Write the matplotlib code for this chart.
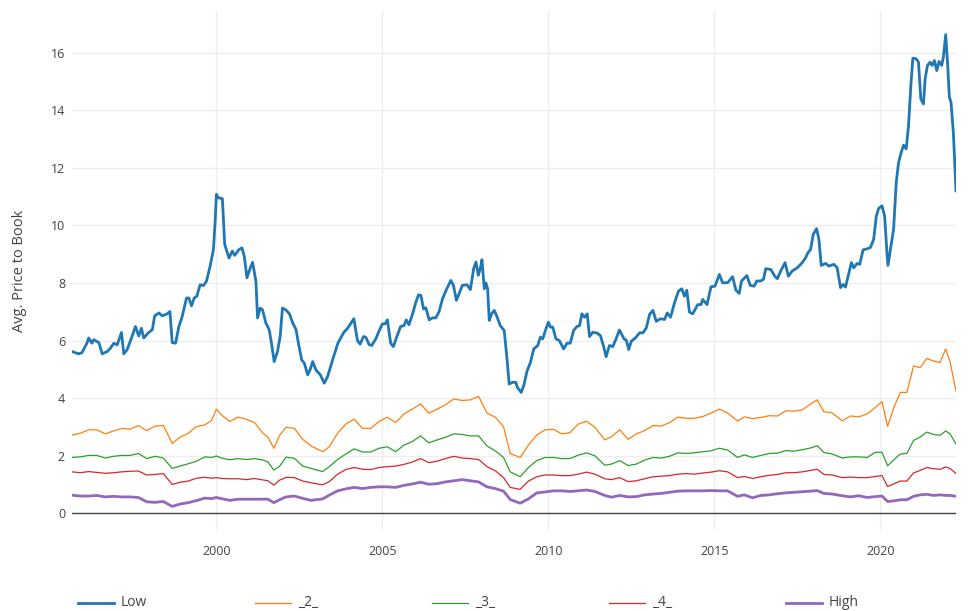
import numpy as np
import matplotlib
matplotlib.use("Agg")
import matplotlib.pyplot as plt
from matplotlib.lines import Line2D

plt.rcParams['font.family'] = ['Open Sans', 'DejaVu Sans']

# Low bucket, read at irregular points (decimal years)
low_t = [1995.65, 1995.85, 1995.95, 1996.10, 1996.15, 1996.25, 1996.30, 1996.46, 1996.56, 1996.71,
         1996.81, 1996.91, 1997.01, 1997.14, 1997.21, 1997.31, 1997.46, 1997.56, 1997.66, 1997.74,
         1997.81, 1997.94, 1998.07, 1998.14, 1998.27, 1998.37, 1998.52, 1998.60, 1998.67, 1998.77,
         1998.87, 1998.97, 1999.10, 1999.17, 1999.25, 1999.33, 1999.41, 1999.51, 1999.61, 1999.70,
         1999.81, 1999.91, 1999.96, 2000.00, 2000.06, 2000.18, 2000.25, 2000.38, 2000.48, 2000.55,
         2000.68, 2000.77, 2000.84, 2000.92, 2001.02, 2001.09, 2001.19, 2001.24, 2001.32, 2001.39,
         2001.49, 2001.59, 2001.66, 2001.74, 2001.84, 2001.92, 2001.99, 2002.09, 2002.20, 2002.30,
         2002.40, 2002.47, 2002.57, 2002.65, 2002.75, 2002.83, 2002.90, 2003.00, 2003.13, 2003.25,
         2003.35, 2003.50, 2003.66,
         2003.84, 2003.94, 2004.04, 2004.14, 2004.25, 2004.33, 2004.43, 2004.50, 2004.60, 2004.68,
         2004.80, 2004.93, 2005.00, 2005.08, 2005.15, 2005.25, 2005.33, 2005.43, 2005.55, 2005.65,
         2005.72, 2005.80, 2005.91, 2006.01, 2006.09, 2006.16, 2006.24, 2006.31, 2006.41, 2006.51,
         2006.61, 2006.71, 2006.81, 2006.94, 2007.06, 2007.14, 2007.23, 2007.31, 2007.41, 2007.55,
         2007.65, 2007.75, 2007.82, 2007.89, 2007.95, 2008.00, 2008.07, 2008.12, 2008.17, 2008.22,
         2008.29, 2008.37, 2008.45, 2008.55, 2008.67, 2008.75, 2008.82, 2008.92, 2009.02, 2009.07,
         2009.18, 2009.26, 2009.36, 2009.46, 2009.56, 2009.68, 2009.76, 2009.83, 2009.91, 2010.00,
         2010.06, 2010.13, 2010.23, 2010.33, 2010.46, 2010.56, 2010.66, 2010.76, 2010.86, 2010.94,
         2011.01, 2011.09, 2011.17, 2011.24, 2011.34, 2011.47, 2011.57, 2011.67, 2011.74, 2011.84,
         2011.94, 2012.04, 2012.14,
         2012.28, 2012.35, 2012.42, 2012.50, 2012.62, 2012.75, 2012.85, 2012.95, 2013.05, 2013.15,
         2013.25, 2013.38, 2013.50, 2013.58, 2013.68, 2013.80, 2013.92, 2014.02, 2014.10, 2014.17,
         2014.25, 2014.35, 2014.50, 2014.60, 2014.65, 2014.78, 2014.90, 2015.02, 2015.15, 2015.25,
         2015.40, 2015.55, 2015.65, 2015.75, 2015.82, 2015.98, 2016.08, 2016.20, 2016.28, 2016.40,
         2016.48, 2016.55, 2016.70, 2016.82, 2016.90, 2017.00, 2017.13, 2017.23, 2017.35, 2017.50,
         2017.65, 2017.75, 2017.82, 2017.90, 2017.98, 2018.08, 2018.15, 2018.22, 2018.35, 2018.45,
         2018.60, 2018.70, 2018.80, 2018.88, 2018.95, 2019.05, 2019.13, 2019.20, 2019.30, 2019.38,
         2019.48, 2019.60, 2019.70, 2019.80, 2019.88, 2019.95, 2020.05, 2020.13, 2020.20, 2020.23,
         2020.32, 2020.40, 2020.48, 2020.55, 2020.63, 2020.70, 2020.78, 2020.85, 2020.92, 2020.98,
         2021.08, 2021.15, 2021.22, 2021.30, 2021.35, 2021.42, 2021.50, 2021.56, 2021.63, 2021.70,
         2021.77, 2021.85, 2021.90, 2021.97, 2022.03, 2022.08, 2022.13, 2022.20, 2022.28]
low = [5.62, 5.54, 5.58, 5.91, 6.09, 5.91, 6.03, 5.93, 5.54, 5.62,
       5.74, 5.91, 5.85, 6.28, 5.54, 5.68, 6.15, 6.49, 6.16, 6.43,
       6.09, 6.26, 6.38, 6.86, 6.96, 6.86, 6.93, 7.01, 5.93, 5.91,
       6.49, 6.84, 7.48, 7.48, 7.21, 7.48, 7.54, 7.94, 7.91, 8.06,
       8.58, 9.16, 10.09, 11.08, 10.96, 10.93, 9.34, 8.87, 9.11, 8.96,
       9.16, 9.22, 8.93, 8.18, 8.52, 8.72, 8.06, 6.79, 7.13, 7.07,
       6.61, 6.38, 5.91, 5.27, 5.62, 6.14, 7.13, 7.07, 6.93, 6.61,
       6.38, 5.91, 5.33, 5.21, 4.81, 5.01, 5.27, 4.98, 4.81, 4.52,
       4.75, 5.33, 5.91,
       6.29, 6.41, 6.58, 6.76, 6.00, 5.88, 6.14, 6.12, 5.86, 5.83,
       6.06, 6.41, 6.58, 6.58, 6.72, 5.91, 5.79, 6.12, 6.49, 6.52,
       6.72, 6.55, 6.93, 7.34, 7.59, 7.57, 7.10, 7.14, 6.72, 6.79,
       6.79, 7.01, 7.45, 7.80, 8.09, 7.92, 7.40, 7.63, 7.92, 7.94,
       7.77, 8.50, 8.73, 8.27, 8.50, 8.81, 7.80, 8.00, 7.80, 6.70,
       6.93, 7.05, 6.84, 6.52, 6.35, 5.42, 4.49, 4.55, 4.55, 4.37,
       4.20, 4.44, 4.95, 5.24, 5.71, 5.83, 6.12, 6.06, 6.35, 6.64,
       6.47, 6.47, 6.06, 6.00, 5.71, 5.91, 5.91, 6.35, 6.49, 6.52,
       6.93, 6.81, 6.93, 6.14, 6.29, 6.26, 6.17, 5.77, 5.44, 5.83,
       5.79, 6.06, 6.37,
       6.06, 6.01, 5.69, 5.98, 6.09, 6.27, 6.27, 6.44, 6.91, 7.05,
       6.67, 6.76, 6.73, 6.96, 6.81, 7.31, 7.72, 7.80, 7.54, 7.75,
       6.99, 6.93, 7.25, 7.25, 7.43, 7.25, 7.87, 7.89, 8.30, 8.01,
       8.01, 8.22, 7.75, 7.64, 8.07, 8.26, 7.92, 7.89, 8.07, 8.07,
       8.13, 8.50, 8.47, 8.24, 8.15, 8.42, 8.71, 8.24, 8.42, 8.53,
       8.71, 8.88, 9.05, 9.17, 9.69, 9.89, 9.52, 8.61, 8.68, 8.59,
       8.65, 8.53, 7.84, 7.95, 7.86, 8.33, 8.71, 8.53, 8.68, 8.65,
       9.15, 9.19, 9.23, 9.52, 10.33, 10.59, 10.68, 10.33, 9.05, 8.61,
       9.28, 9.87, 11.49, 12.19, 12.54, 12.79, 12.66, 13.47, 14.86, 15.81,
       15.79, 15.67, 14.40, 14.22, 15.09, 15.56, 15.67, 15.56, 15.73, 15.38,
       15.70, 15.56, 15.85, 16.63, 15.56, 14.46, 14.28, 13.24, 11.20]

# other buckets share one set of read points
t = [1995.65, 1995.9, 1996.15, 1996.4, 1996.65, 1996.9, 1997.15, 1997.4, 1997.65, 1997.9,
     1998.15, 1998.4, 1998.67, 1998.9, 1999.15, 1999.4, 1999.65, 1999.85, 2000.0, 2000.15,
     2000.4, 2000.65, 2000.9, 2001.15, 2001.4, 2001.55, 2001.73, 2001.9, 2002.1,
     2002.35, 2002.6, 2002.85, 2003.2, 2003.4, 2003.65, 2003.9, 2004.15, 2004.4, 2004.65,
     2004.9, 2005.15, 2005.4, 2005.65, 2005.9, 2006.15, 2006.4, 2006.65, 2006.9, 2007.15,
     2007.4, 2007.65, 2007.9, 2008.15, 2008.4, 2008.65, 2008.85,
     2009.15, 2009.4, 2009.65, 2009.9, 2010.15, 2010.4, 2010.65, 2010.9, 2011.15, 2011.4,
     2011.7, 2011.9, 2012.15, 2012.4, 2012.65, 2012.9, 2013.15, 2013.4, 2013.65, 2013.9,
     2014.15, 2014.4, 2014.65, 2014.9, 2015.15, 2015.4,
     2015.7, 2015.9, 2016.15, 2016.4, 2016.65, 2016.9, 2017.15, 2017.4, 2017.65, 2017.9,
     2018.1, 2018.3, 2018.55, 2018.85, 2019.1, 2019.35, 2019.6, 2019.85, 2020.05, 2020.22,
     2020.4, 2020.6, 2020.8, 2021.0, 2021.2, 2021.4, 2021.6, 2021.8, 2021.97, 2022.1,
     2022.28]

q2 = [2.72, 2.78, 2.90, 2.90, 2.76, 2.86, 2.95, 2.92, 3.05, 2.87,
      3.03, 3.05, 2.43, 2.64, 2.78, 3.01, 3.07, 3.22, 3.62, 3.42,
      3.19, 3.34, 3.27, 3.15, 2.78, 2.65, 2.26, 2.70, 2.99,
      2.95, 2.57, 2.34, 2.14, 2.31, 2.78, 3.10, 3.27, 2.95, 2.95,
      3.19, 3.34, 3.15, 3.45, 3.62, 3.80, 3.48, 3.62, 3.77, 3.97,
      3.92, 3.94, 4.06, 3.48, 3.34, 3.01, 2.08,
      1.94, 2.37, 2.72, 2.90, 2.92, 2.76, 2.80, 3.10, 3.20, 2.99,
      2.55, 2.66, 2.90, 2.57, 2.76, 2.87, 3.05, 3.03, 3.15, 3.34,
      3.30, 3.30, 3.36, 3.48, 3.62, 3.48,
      3.21, 3.35, 3.29, 3.33, 3.39, 3.38, 3.56, 3.55, 3.59, 3.80,
      3.94, 3.53, 3.49, 3.21, 3.38, 3.35, 3.45, 3.68, 3.88, 3.02,
      3.65, 4.20, 4.20, 5.12, 5.06, 5.38, 5.29, 5.24, 5.71, 5.26,
      4.25]

q3 = [1.94, 1.96, 2.01, 2.01, 1.92, 1.98, 2.01, 2.01, 2.08, 1.90,
      1.98, 1.92, 1.56, 1.64, 1.72, 1.81, 1.96, 1.94, 1.99, 1.92,
      1.86, 1.90, 1.87, 1.90, 1.85, 1.79, 1.50, 1.63, 1.95,
      1.91, 1.64, 1.56, 1.45, 1.62, 1.87, 2.06, 2.24, 2.13, 2.13,
      2.26, 2.31, 2.14, 2.37, 2.49, 2.69, 2.45, 2.55, 2.64, 2.76,
      2.74, 2.69, 2.69, 2.34, 2.17, 1.94, 1.44,
      1.27, 1.59, 1.83, 1.94, 1.94, 1.90, 1.90, 2.02, 2.10, 2.00,
      1.67, 1.71, 1.83, 1.66, 1.71, 1.85, 1.94, 1.92, 1.98, 2.10,
      2.08, 2.10, 2.14, 2.17, 2.26, 2.20,
      1.94, 2.03, 1.94, 2.01, 2.08, 2.09, 2.18, 2.16, 2.21, 2.27,
      2.35, 2.11, 2.06, 1.92, 1.96, 1.96, 1.94, 2.12, 2.12, 1.65,
      1.85, 2.06, 2.08, 2.53, 2.65, 2.82, 2.74, 2.71, 2.86, 2.76,
      2.41]

q4 = [1.44, 1.41, 1.45, 1.42, 1.39, 1.41, 1.44, 1.46, 1.47, 1.33,
      1.35, 1.38, 1.00, 1.08, 1.12, 1.22, 1.25, 1.22, 1.24, 1.21,
      1.20, 1.20, 1.17, 1.21, 1.16, 1.13, 0.98, 1.15, 1.25,
      1.24, 1.12, 1.06, 0.99, 1.10, 1.36, 1.52, 1.59, 1.53, 1.52,
      1.59, 1.62, 1.64, 1.70, 1.78, 1.90, 1.76, 1.81, 1.90, 1.98,
      1.92, 1.90, 1.87, 1.62, 1.48, 1.24, 0.90,
      0.83, 1.12, 1.27, 1.33, 1.33, 1.31, 1.31, 1.36, 1.43, 1.36,
      1.20, 1.17, 1.24, 1.10, 1.13, 1.20, 1.27, 1.29, 1.31, 1.36,
      1.38, 1.36, 1.40, 1.43, 1.48, 1.44,
      1.24, 1.28, 1.21, 1.27, 1.32, 1.35, 1.41, 1.41, 1.44, 1.49,
      1.53, 1.35, 1.33, 1.24, 1.26, 1.24, 1.24, 1.28, 1.31, 0.93,
      1.02, 1.12, 1.12, 1.40, 1.49, 1.59, 1.55, 1.53, 1.61, 1.56,
      1.38]

high = [0.63, 0.60, 0.60, 0.62, 0.57, 0.59, 0.57, 0.57, 0.55, 0.40,
        0.38, 0.41, 0.24, 0.32, 0.37, 0.44, 0.53, 0.51, 0.55, 0.51,
        0.45, 0.49, 0.49, 0.49, 0.49, 0.49, 0.37, 0.47, 0.57,
        0.60, 0.52, 0.45, 0.50, 0.63, 0.78, 0.85, 0.90, 0.86, 0.90,
        0.92, 0.92, 0.90, 0.97, 1.02, 1.08, 1.01, 1.03, 1.09, 1.13,
        1.17, 1.13, 1.09, 0.92, 0.86, 0.77, 0.48,
        0.35, 0.50, 0.71, 0.74, 0.78, 0.78, 0.76, 0.78, 0.81, 0.76,
        0.62, 0.56, 0.62, 0.57, 0.58, 0.64, 0.67, 0.69, 0.73, 0.77,
        0.78, 0.78, 0.78, 0.79, 0.78, 0.78,
        0.59, 0.64, 0.54, 0.62, 0.64, 0.68, 0.71, 0.73, 0.75, 0.77,
        0.79, 0.69, 0.67, 0.61, 0.57, 0.61, 0.55, 0.58, 0.60, 0.41,
        0.43, 0.47, 0.47, 0.59, 0.64, 0.66, 0.62, 0.64, 0.62, 0.62,
        0.59]

names = ['Low', '_2_', '_3_', '_4_', 'High']
colors = ['#1f77b4', '#ff7f0e', '#2ca02c', '#d62728', '#9467bd']
widths = [2.0, 0.9, 0.9, 0.9, 2.0]
xticks = [2000, 2005, 2010, 2015, 2020]
yticks = [0, 2, 4, 6, 8, 10, 12, 14, 16]

fig = plt.figure(figsize=(9.69, 6.11), dpi=100)
ax = fig.add_axes([72 / 969, 1 - 530 / 611, (956 - 72) / 969, (530 - 11) / 611])

series = [(low_t, low), (t, q2), (t, q3), (t, q4), (t, high)]
for (xs, ys), name, c, w in zip(series, names, colors, widths):
    ax.plot(xs, ys, color=c, lw=w, label=name, solid_joinstyle='round')

ax.set_xlim(1995.65, 2022.28)
ax.set_ylim(-0.58, 17.45)
ax.set_xticks(xticks)
ax.set_xticklabels([str(v) for v in xticks])
ax.set_yticks(yticks)
ax.set_yticklabels([str(v) for v in yticks])
ax.grid(True, color='#eeeeee', lw=1)
ax.set_axisbelow(True)
ax.axhline(0, color='#444444', lw=1, zorder=1)
for s in ax.spines.values():
    s.set_visible(False)
ax.tick_params(length=0, colors='#444444', labelsize=9)
ax.tick_params(axis='x', pad=11)
ax.tick_params(axis='y', pad=5)
ax.set_ylabel('Avg. Price to Book', fontsize=10.5, color='#444444', labelpad=17)

# legend row along the bottom
leg_x = [78, 255, 432, 609, 786]
for x0, name, c, w in zip(leg_x, names, colors, widths):
    y = 1 - 603 / 611
    fig.add_artist(Line2D([x0 / 969, (x0 + 36) / 969], [y, y], transform=fig.transFigure,
                          color=c, lw=w))
    fig.text((x0 + 43) / 969, y, name, fontsize=10, color='#444444', va='center')

fig.savefig('out.png', dpi=100)
